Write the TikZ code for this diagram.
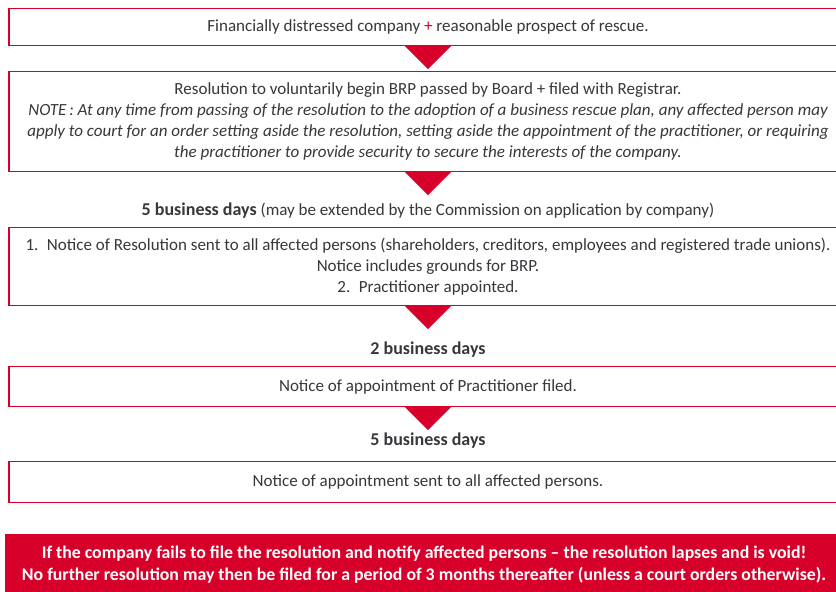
\documentclass[tikz,border=0pt]{standalone}
\usepackage{fontspec}
\setmainfont{Carlito}
\usetikzlibrary{calc}
\definecolor{brpred}{RGB}{214,0,42}
\definecolor{brptext}{RGB}{55,55,60}
\newcommand{\bb}[1]{{\bfseries\fontsize{18}{20}\selectfont #1}}
\begin{document}
\begin{tikzpicture}[x=1pt,y=-1pt,
  box/.style={draw=brpred,line width=1.2pt,fill=white,anchor=north,minimum width=838pt,
    inner sep=0pt,align=center,text=brptext,font=\fontsize{17}{20.8}\selectfont},
  lbl/.style={anchor=center,inner sep=0pt,text=brptext,font=\fontsize{17}{20}\selectfont},
  redbox/.style={fill=brpred,anchor=north,minimum width=838pt,inner sep=0pt,align=center,
    text=white,font=\bfseries\fontsize{17.8}{22}\selectfont},
  tri/.style={fill=brpred}]
\useasboundingbox (0,0) rectangle (836,592);
\clip (0,0) rectangle (836,592);
\fill[white] (0,0) rectangle (836,592);
\node[box,minimum height=37pt] (b1) at (428,8) {Financially distressed company {\color{brpred}+} reasonable prospect of rescue.};
\node[box,minimum height=100pt] (b2) at (428,71) {Resolution to voluntarily begin BRP passed by Board + filed with Registrar.\\
\itshape NOTE\,: At any time from passing of the resolution to the adoption of a business rescue plan, any affected person may\\
\itshape apply to court for an order setting aside the resolution, setting aside the appointment of the practitioner, or requiring\\
\itshape the practitioner to provide security to secure the interests of the company.};
\node[lbl] (l1) at (428,211) {\bb{5 business days} (may be extended by the Commission on application by company)};
\node[box,minimum height=78pt] (b3) at (428,227) {1.\enspace Notice of Resolution sent to all affected persons (shareholders, creditors, employees and registered trade unions).\\
Notice includes grounds for BRP.\\
2.\enspace Practitioner appointed.};
\node[lbl] (l2) at (428,350) {\bb{2 business days}};
\node[box,minimum height=40pt] (b4) at (428,366) {Notice of appointment of Practitioner filed.};
\node[lbl] (l3) at (428,441) {\bb{5 business days}};
\node[box,minimum height=41pt] (b5) at (428,461) {Notice of appointment sent to all affected persons.};
\node[redbox,minimum height=60pt] (r) at (424,534) {If the company fails to file the resolution and notify affected persons -- the resolution lapses and is void!\\
No further resolution may then be filed for a period of 3 months thereafter (unless a court orders otherwise).};
\foreach \a in {b1,b2,b3,b4}{
  \fill[tri] ($(\a.south)+(-23,0)$) -- ($(\a.south)+(23,0)$) -- ($(\a.south)+(0,23)$) -- cycle;
}
\end{tikzpicture}
\end{document}
